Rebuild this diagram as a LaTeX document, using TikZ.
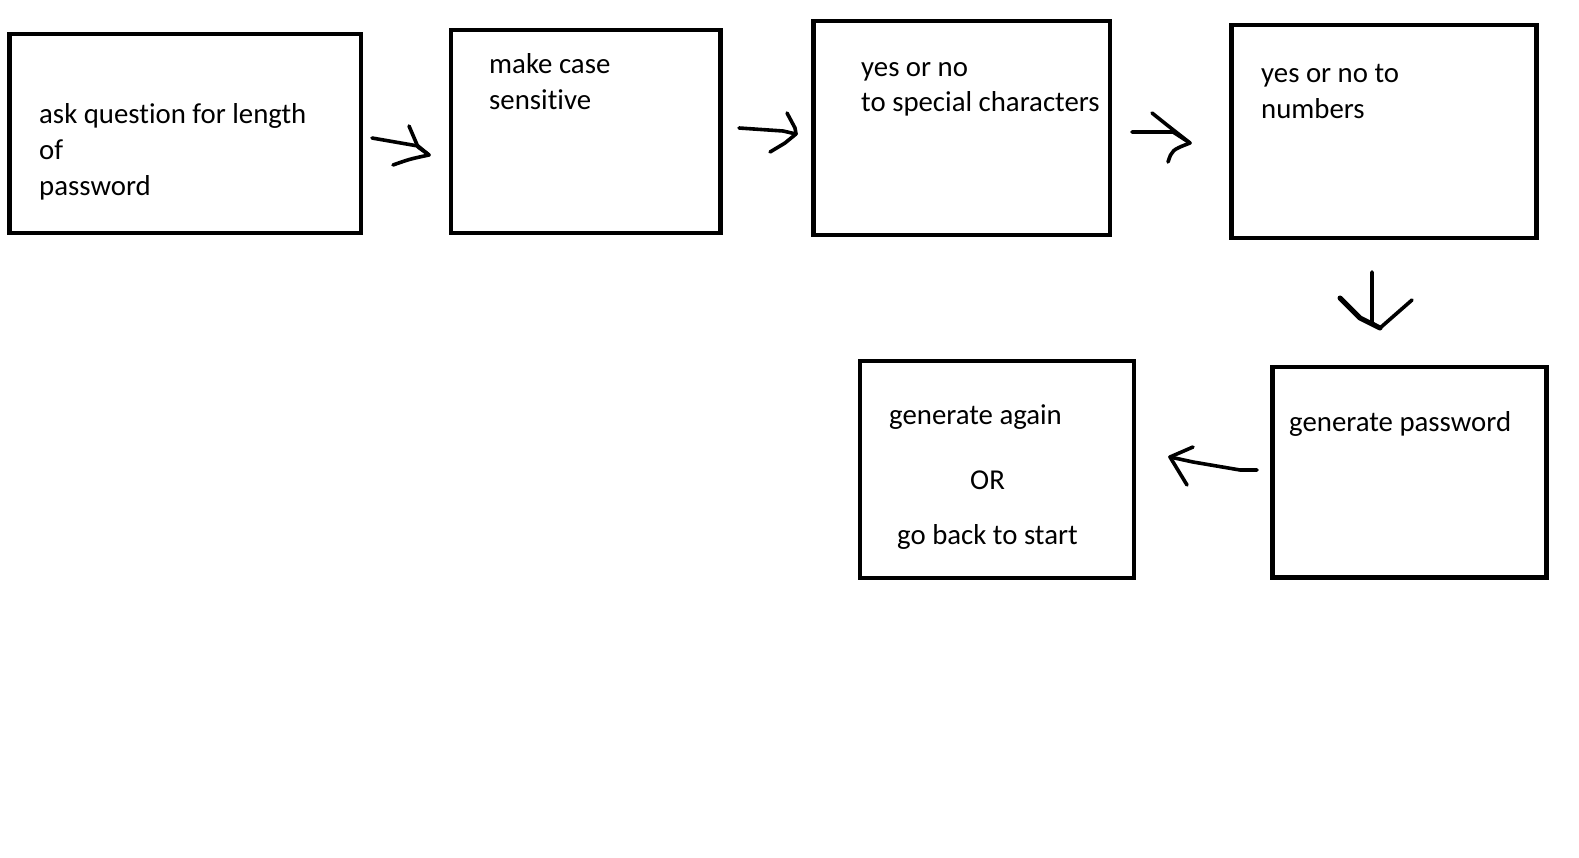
\documentclass[tikz,border=0pt]{standalone}
\usepackage{fontspec}
\setmainfont[Ligatures=NoCommon]{Carlito}
\tikzset{
  box/.style={draw, line width=4.5pt, inner sep=0pt, outer sep=0pt},
  txt/.style={inner sep=0pt, anchor=base west, font=\fontsize{28.8}{36}\selectfont},
  pen/.style={line width=3.6pt, line cap=round, line join=round}
}
\begin{document}
\begin{tikzpicture}[x=1pt,y=-1pt]
  \useasboundingbox (0,0) rectangle (1579,858);
  % boxes
  \node[box, minimum width=351.5pt, minimum height=199pt] (ask) at (185.25,133.5) {};
  \node[box, minimum width=269.5pt, minimum height=203pt] (case) at (585.75,131.5) {};
  \node[box, minimum width=296.5pt, minimum height=214pt] (spec) at (961.75,128) {};
  \node[box, minimum width=305pt, minimum height=213pt] (num) at (1384,131.5) {};
  \node[box, minimum width=274pt, minimum height=210.5pt] (gen) at (1409.5,472.25) {};
  \node[box, minimum width=274pt, minimum height=217pt] (again) at (997,469.5) {};
  % texts
  \node[txt] (askA) at (39,124) {ask question for length};
  \node[txt] (askB) at (39,160) {of};
  \node[txt] (askC) at (39,196) {password};
  \node[txt] (caseA) at (489,74) {make case};
  \node[txt] (caseB) at (489,110) {sensitive};
  \node[txt] (specA) at (861,77) {yes or no};
  \node[txt] (specB) at (861,112) {to special characters};
  \node[txt] (numA) at (1261,83) {yes or no to};
  \node[txt] (numB) at (1261,119) {numbers};
  \node[txt] (genA) at (1289,431) {generate password};
  \node[txt] (againA) at (889,424) {generate again};
  \node[txt] (againB) at (970,489) {OR};
  \node[txt] (againC) at (897,544) {go back to start};
  % hand drawn arrows
  \coordinate (t1) at (372,138);  \coordinate (h1) at (429,155);
  \draw[pen] (t1) -- (418,146) -- (h1);
  \draw[pen] (409,126) -- (418,147) -- (h1);
  \draw[pen] (393,165) .. controls (410,159) .. (h1);
  \coordinate (t2) at (739,128);  \coordinate (h2) at (796,134);
  \draw[pen] (t2) -- (783,131) -- (h2);
  \draw[pen] (787,113) -- (795,128) -- (h2);
  \draw[pen] (770,152) -- (785,143) -- (h2);
  \coordinate (t3) at (1132,132); \coordinate (h3) at (1190,143);
  \draw[pen] (t3) -- (1173,132) -- (h3);
  \draw[pen] (1152,113) -- (1167,125) -- (h3);
  \draw[pen] (1168,162) .. controls (1172,150) .. (h3);
  \coordinate (t4) at (1372,272); \coordinate (h4) at (1380,328);
  \draw[pen] (t4) -- (1372,323) -- (h4);
  \draw[pen, line width=5pt] (1340,298) -- (1360,318) -- (h4);
  \draw[pen] (1412,300) -- (h4);
  \coordinate (t5) at (1257,470); \coordinate (h5) at (1170,457);
  \draw[pen] (t5) -- (1240,470) -- (1193,462) -- (h5);
  \draw[pen] (1193,447) -- (h5) -- (1187,485);
\end{tikzpicture}
\end{document}
